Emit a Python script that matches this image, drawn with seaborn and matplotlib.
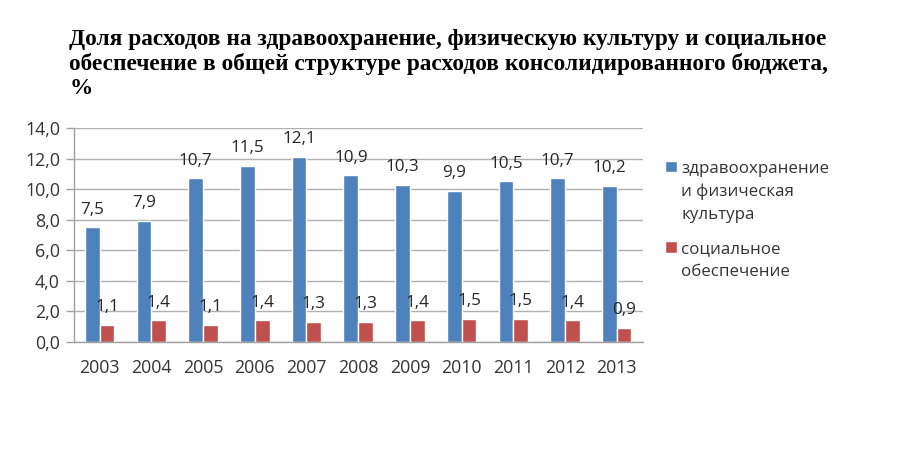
import seaborn as sns
import matplotlib.pyplot as plt
import pandas as pd

years = ['2003', '2004', '2005', '2006', '2007', '2008', '2009', '2010', '2011', '2012', '2013']
health = [7.5, 7.9, 10.7, 11.5, 12.1, 10.9, 10.3, 9.9, 10.5, 10.7, 10.2]
social = [1.1, 1.4, 1.1, 1.4, 1.3, 1.3, 1.4, 1.5, 1.5, 1.4, 0.9]
series_names = ['здравоохранение\nи физическая\nкультура', 'социальное\nобеспечение']
title = ('Доля расходов на здравоохранение, физическую культуру и социальное\n'
         'обеспечение в общей структуре расходов консолидированного бюджета,\n%')

df = pd.DataFrame({
    'year': years * 2,
    'value': health + social,
    'series': [series_names[0]] * len(years) + [series_names[1]] * len(years),
})

sns.set_style('white')
plt.rcParams['font.family'] = ['Open Sans', 'DejaVu Sans']

fig = plt.figure(figsize=(9, 4.54), dpi=100)
ax = fig.add_axes([0.082, 0.247, 0.632, 0.471])

sns.barplot(data=df, x='year', y='value', hue='series', palette=['#4F81BD', '#C0504D'],
            width=0.57, gap=0, saturation=1, ax=ax)

for c in ax.containers:
    ax.bar_label(c, labels=[f'{v:.1f}'.replace('.', ',') for v in c.datavalues],
                 padding=7, fontsize=12.3, color='#262626')

ax.set_ylim(0, 14)
ax.set_xlim(-0.5, 10.5)
ax.set_yticks(range(0, 15, 2))
ax.set_yticklabels([f'{v},0' for v in range(0, 15, 2)])
ax.set_xticks(range(len(years)), minor=False)
ax.set_xticks([i - 0.5 for i in range(len(years) + 1)], minor=True)
ax.tick_params(axis='x', which='major', length=0, pad=12, labelsize=12.8, labelcolor='#333333')
ax.tick_params(axis='x', which='minor', length=5, color='#a0a0a0', width=1)
ax.tick_params(axis='y', length=6, color='#a0a0a0', width=1, pad=4, labelsize=12.8,
               labelcolor='#333333', left=True)
ax.yaxis.grid(True, color='#b0b0b0', lw=1)
ax.set_axisbelow(True)
ax.set_xlabel('')
ax.set_ylabel('')
for s in ['top', 'right']:
    ax.spines[s].set_visible(False)
for s in ['left', 'bottom']:
    ax.spines[s].set_color('#a0a0a0')
    ax.spines[s].set_linewidth(1)

handles, _ = ax.get_legend_handles_labels()
leg = ax.legend(handles, series_names, loc='upper left', bbox_to_anchor=(0.739, 0.646),
                bbox_transform=fig.transFigure, frameon=False, fontsize=12.2,
                handlelength=0.71, handleheight=0.68, handletextpad=0.25, labelspacing=1.1,
                labelcolor='#333333', borderpad=0, borderaxespad=0)
for t in leg.get_texts():
    t.set_linespacing(1.55)
# square next to the first line of each entry, as in the original
for col in leg._legend_handle_box.get_children():
    for item in col.get_children():
        item.align = 'top'

fig.text(0.077, 0.937, title, family='Liberation Serif', fontweight='bold', fontsize=16.8,
         va='top', ha='left', linespacing=1.2, color='black')

fig.savefig('out.png', dpi=100)
